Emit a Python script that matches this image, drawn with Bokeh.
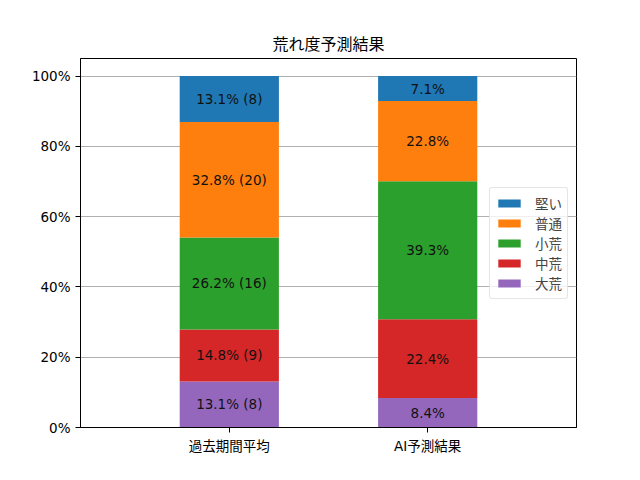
from bokeh.plotting import figure
from bokeh.models import ColumnDataSource, FactorRange, Range1d, FixedTicker, Legend, LegendItem
from bokeh.core.properties import value
from bokeh.embed import file_html
from bokeh.resources import INLINE

categories = ["過去期間平均", "AI予測結果"]
levels = ["大荒", "中荒", "小荒", "普通", "堅い"]  # bottom to top
colors = ["#9467bd", "#d62728", "#2ca02c", "#ff7f0e", "#1f77b4"]
past_pct = [13.1, 14.8, 26.2, 32.8, 13.1]
past_cnt = [8, 9, 16, 20, 8]
ai_pct = [8.4, 22.4, 39.3, 22.8, 7.1]
y_ticks = [0, 20, 40, 60, 80, 100]
y_tick_labels = ["0%", "20%", "40%", "60%", "80%", "100%"]

FONT = "'DejaVu Sans', 'Noto Sans CJK JP'"

p = figure(x_range=FactorRange(*categories, range_padding=0.25),
           y_range=Range1d(0, 105),
           width=640, height=480, output_backend="svg", toolbar_location=None,
           min_border_left=80, min_border_right=64, min_border_top=58, min_border_bottom=53,
           title="荒れ度予測結果")

p.title.align = "center"
p.title.text_font = "Noto Sans CJK JP"
p.title.text_font_size = "16px"
p.title.text_font_style = "normal"
p.title.text_color = "black"
p.title.standoff = 8

renderers = []
bottoms = [0.0, 0.0]
lx, ly, lt = [], [], []
for i, lev in enumerate(levels):
    vals = [past_pct[i], ai_pct[i]]
    tops = [bottoms[0] + vals[0], bottoms[1] + vals[1]]
    src = ColumnDataSource(dict(x=categories, bottom=list(bottoms), top=tops))
    r = p.vbar(x="x", bottom="bottom", top="top", width=0.5, source=src,
               fill_color=colors[i], line_color=None)
    renderers.append(r)
    lx += categories
    ly += [(bottoms[0] + tops[0]) / 2, (bottoms[1] + tops[1]) / 2]
    lt += [f"{past_pct[i]:.1f}% ({past_cnt[i]})", f"{ai_pct[i]:.1f}%"]
    bottoms = tops

tsrc = ColumnDataSource(dict(x=lx, y=ly, t=lt))
p.text(x="x", y="y", text="t", source=tsrc, text_align="center", text_baseline="middle",
       text_font=value(FONT), text_font_size="13.5px", text_color="#111111")

items = [LegendItem(label=levels[i], renderers=[renderers[i]]) for i in reversed(range(len(levels)))]
legend = Legend(items=items, location="center_right")
legend.label_text_font = "Noto Sans CJK JP"
legend.label_text_font_size = "13.5px"
legend.glyph_width = 28
legend.glyph_height = 10
legend.label_height = 20
legend.label_standoff = 12
legend.spacing = 0
legend.padding = 5
legend.margin = 8
legend.border_line_color = "#cccccc"
legend.border_radius = 3
legend.background_fill_alpha = 0.8
p.add_layout(legend)

p.yaxis.ticker = FixedTicker(ticks=y_ticks)
p.yaxis.major_label_overrides = {t: l for t, l in zip(y_ticks, y_tick_labels)}
for ax in (p.xaxis, p.yaxis):
    ax.axis_line_color = "black"
    ax.major_tick_line_color = "black"
    ax.major_tick_out = 5
    ax.major_tick_in = 0
    ax.minor_tick_line_color = None
    ax.major_label_text_font = FONT
    ax.major_label_text_font_size = "13.5px"
    ax.major_label_text_color = "black"
    ax.major_label_standoff = 5

p.xgrid.grid_line_color = None
p.ygrid.grid_line_color = "#b0b0b0"
p.ygrid.grid_line_width = 1
p.outline_line_color = "black"
p.outline_line_alpha = 1
p.outline_line_width = 1

open("out.html", "w").write(file_html(p, INLINE))
